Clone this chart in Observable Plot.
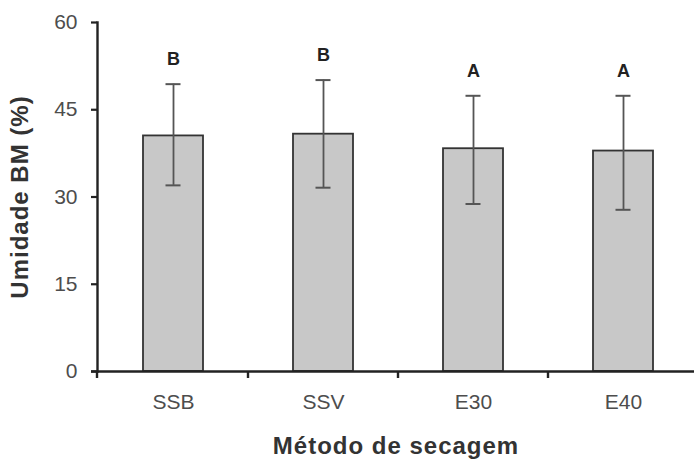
<!DOCTYPE html>
<html><head><meta charset="utf-8">
<script src="https://cdn.jsdelivr.net/npm/d3@7"></script>
<script src="https://cdn.jsdelivr.net/npm/@observablehq/plot@0.6"></script>
<style>
body{margin:0;background:#fff}
#chart svg{font-family:"Liberation Sans",Arial,sans-serif;background:#fff}
g[aria-label="y-axis tick label"] text, g[aria-label="x-axis tick label"] text{fill:#4d4d4d;font-size:21px}
g[aria-label="y-axis label"] text, g[aria-label="x-axis label"] text{fill:#333;font-size:24px;font-weight:bold;letter-spacing:1px}
</style></head><body><div id="chart"></div>
<script>
const categories = ["SSB", "SSV", "E30", "E40"];
const means = [40.5, 40.8, 38.3, 37.9];
const errUpper = [49.4, 50.1, 47.4, 47.4];
const errLower = [32.0, 31.6, 28.8, 27.8];
const letters = ["B", "B", "A", "A"];
const yTicks = [0, 15, 30, 45, 60];

const data = categories.map((c, i) => ({cat: c, mean: means[i], hi: errUpper[i], lo: errLower[i], letter: letters[i]}));

// small tick marks on the x axis at the category boundaries, computed from the band scale
function boundaryTicks(index, scales, values, dims) {
  const x = scales.x, y = scales.y;
  const bw = typeof x.bandwidth === "function" ? x.bandwidth() : (x.bandwidth || 0);
  const y0 = y(0);
  const g = d3.create("svg:g").attr("stroke", "#222").attr("stroke-width", 2.4);
  const step = x(categories[1]) - x(categories[0]);
  const gap = step - bw;
  const xs = categories.map(c => x(c) - gap / 2);
  xs[0] = dims.marginLeft;
  for (const xv of xs) {
    g.append("line").attr("x1", xv).attr("x2", xv).attr("y1", y0).attr("y2", y0 + 7);
  }
  return g.node();
}

const chart = Plot.plot({
  width: 694,
  height: 464,
  marginLeft: 97,
  marginRight: 0,
  marginTop: 22,
  marginBottom: 93,
  x: {domain: categories, range: [97, 698], paddingInner: 0.6, paddingOuter: 0.3},
  y: {domain: [0, 60]},
  style: {fontFamily: "Liberation Sans, Arial, sans-serif", fontSize: "21px", color: "#333", background: "#fff"},
  marks: [
    Plot.barY(data, {x: "cat", y: "mean", fill: "#c8c8c8", stroke: "#333", strokeWidth: 1.8}),
    Plot.ruleX(data, {x: "cat", y1: "lo", y2: "hi", stroke: "#555", strokeWidth: 1.8}),
    Plot.tickY(data, {x: "cat", y: "hi", insetLeft: 22.5, insetRight: 22.5, stroke: "#555", strokeWidth: 2}),
    Plot.tickY(data, {x: "cat", y: "lo", insetLeft: 22.5, insetRight: 22.5, stroke: "#555", strokeWidth: 2}),
    Plot.text(data, {x: "cat", y: "hi", text: "letter", dy: -25, fontWeight: "bold", fontSize: 18, fill: "#222"}),
    Plot.ruleY([0], {stroke: "#222", strokeWidth: 2.4, insetLeft: -6}),
    Plot.frame({anchor: "left", stroke: "#222", strokeWidth: 2.4}),
    Plot.axisY({ticks: yTicks, tickSize: 6, tickPadding: 14, stroke: "#222", strokeWidth: 2.2, label: "Umidade BM (%)", labelAnchor: "center", labelOffset: 87, labelArrow: "none"}),
    Plot.axisX({tickSize: 0, tickPadding: 23, label: "Método de secagem", labelAnchor: "center", labelOffset: 82, labelArrow: "none"}),
    boundaryTicks
  ]
});
document.getElementById("chart").append(chart);
</script>
</body></html>
